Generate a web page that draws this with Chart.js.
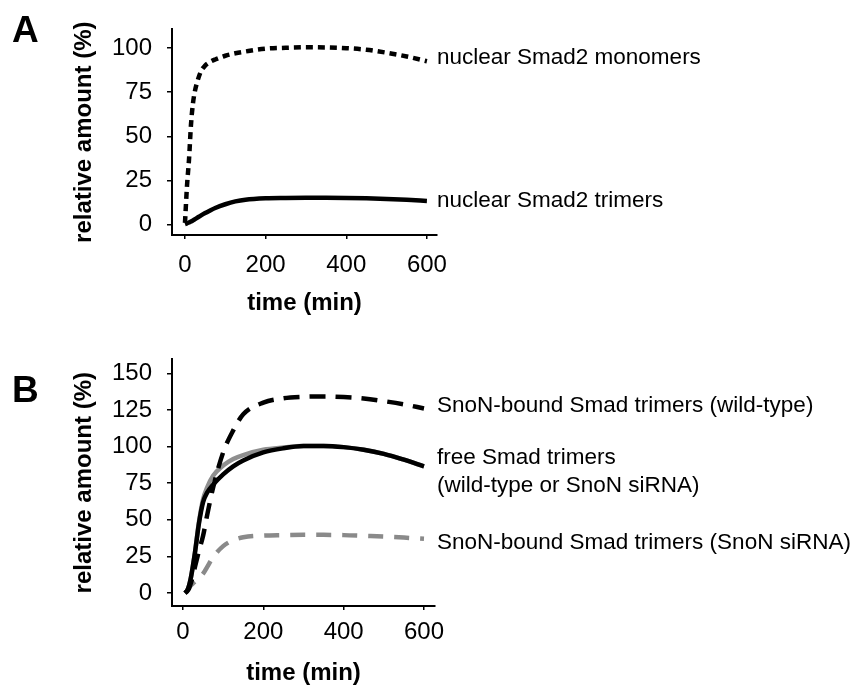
<!DOCTYPE html>
<html>
<head>
<meta charset="utf-8">
<script src="https://cdn.jsdelivr.net/npm/chart.js@4.4.1/dist/chart.umd.min.js"></script>
<style>
  html, body { margin: 0; padding: 0; background: #fff; }
  #wrap { position: relative; width: 859px; height: 688px; overflow: hidden; }
  canvas { position: absolute; left: 0; }
  #chartA { top: 0; }
  #chartB { top: 330px; }
</style>
</head>
<body>
<div id="wrap">
  <canvas id="chartA" width="859" height="330"></canvas>
  <canvas id="chartB" width="859" height="358"></canvas>
</div>
<script>
// Panel A data (time in min, relative amount in %)
const timeA = [0, 5, 10, 15, 20, 25, 30, 40, 50, 60, 75, 100, 125, 150, 200, 250, 300, 350, 400, 450, 500, 550, 600];
const monomersA = [1, 22, 37, 57, 69, 76, 80.5, 87, 90, 91.8, 93.5, 95.6, 97, 98, 99.6, 100.1, 100.4, 100.3, 99.9, 99, 97.3, 95.2, 92.5];
const trimersA = [0.4, 0.8, 1.3, 1.8, 2.5, 3.2, 3.9, 5.3, 6.6, 7.8, 9.5, 11.6, 13.2, 14.2, 15.0, 15.2, 15.3, 15.3, 15.2, 15.0, 14.6, 14.1, 13.5];
const yTicksA = [0, 25, 50, 75, 100];

// Panel B data
const timeB = [5, 10, 15, 20, 25, 30, 40, 50, 60, 75, 100, 125, 150, 200, 250, 300, 350, 400, 450, 500, 550, 600];
const freeWT = [0, 1.5, 5, 11, 19, 28, 48, 62, 68.5, 74, 81, 86.5, 90.5, 96, 98.8, 100.3, 100.4, 99.6, 97.8, 95, 91, 86.5];
const freeSi = [0, 1.5, 5, 11, 19, 28, 49, 64, 72, 80, 87, 91.5, 94.2, 97.8, 99.3, 100.3, 100.4, 99.6, 97.8, 95, 91, 86.5];
const boundWT = [0, 1, 3, 7, 12, 18, 29, 39, 53, 72, 96, 111, 122, 130, 133, 134, 134.2, 133.8, 132.8, 131, 128.8, 126];
const boundSi = [0, 1.5, 3.5, 5.3, 6.6, 7.8, 10.3, 13.2, 17.7, 24.5, 32, 36, 38, 39.2, 39.5, 39.7, 39.7, 39.5, 39, 38.5, 37.8, 37];
const yTicksB = [0, 25, 50, 75, 100, 125, 150];

const xTicks = [0, 200, 400, 600];

const FONT = '"Liberation Sans", Arial, sans-serif';
Chart.defaults.font.family = FONT;
Chart.defaults.color = "#000";

function pts(time, vals) {
  return time.map((t, i) => ({ x: t, y: vals[i] }));
}

// draws the panel letter and the text beside each curve end
const sideLabels = {
  id: "sideLabels",
  afterDraw(chart, args, opts) {
    const ctx = chart.ctx;
    ctx.save();
    ctx.fillStyle = "#000";
    ctx.font = "bold 37px " + FONT;
    ctx.textBaseline = "alphabetic";
    ctx.textAlign = "left";
    ctx.fillText(opts.letter, 12, opts.letterY);

    ctx.font = "22.5px " + FONT;
    ctx.textBaseline = "middle";
    opts.items.forEach(item => {
      const data = chart.data.datasets[item.ds].data;
      const last = data[data.length - 1];
      const y0 = chart.scales.y.getPixelForValue(last.y) + item.dy;
      item.lines.forEach((line, i) => {
        ctx.fillText(line, opts.x, y0 + i * 28);
      });
    });
    ctx.restore();
  }
};

function makeChart(id, cfg) {
  return new Chart(document.getElementById(id), {
    type: "line",
    data: { datasets: cfg.datasets },
    options: {
      responsive: false,
      animation: false,
      events: [],
      layout: { padding: cfg.padding },
      elements: { point: { radius: 0 }, line: { cubicInterpolationMode: "monotone" } },
      plugins: {
        legend: { display: false },
        tooltip: { enabled: false },
        sideLabels: cfg.labels
      },
      scales: {
        x: {
          type: "linear",
          min: cfg.xMin,
          max: cfg.xMax,
          afterFit: s => { s.height = cfg.xHeight; },
          afterBuildTicks: s => { s.ticks = xTicks.map(v => ({ value: v })); },
          ticks: { font: { size: 24 }, padding: cfg.xTickPad, maxRotation: 0, color: "#000" },
          grid: { drawOnChartArea: false, drawTicks: true, tickLength: 4, color: "#000", lineWidth: 1.5 },
          border: { color: "#000", width: 2 },
          title: { display: true, text: "time (min)", font: { size: 24, weight: "bold" }, padding: { top: 0, bottom: cfg.xTitlePad }, color: "#000" }
        },
        y: {
          min: cfg.yMin,
          max: cfg.yMax,
          afterFit: s => { s.width = 102; },
          afterBuildTicks: s => { s.ticks = cfg.yTicks.map(v => ({ value: v })); },
          ticks: { font: { size: 24 }, padding: 15, color: "#000" },
          grid: { drawOnChartArea: false, drawTicks: true, tickLength: 5, color: "#000", lineWidth: 1.5 },
          border: { color: "#000", width: 2 },
          title: { display: true, text: "relative amount (%)", font: { size: 24, weight: "bold" }, padding: 0, color: "#000" }
        }
      }
    },
    plugins: [sideLabels]
  });
}

makeChart("chartA", {
  padding: { left: 70, top: 13, right: 422, bottom: 0 },
  xMin: -32.2, xMax: 625, yMin: -5.8, yMax: 110.5,
  xHeight: 95, xTickPad: 12, xTitlePad: 12,
  yTicks: yTicksA,
  datasets: [
    { label: "nuclear Smad2 monomers", data: pts(timeA, monomersA), borderColor: "#000", borderWidth: 4.5, borderDash: [7, 5] },
    { label: "nuclear Smad2 trimers", data: pts(timeA, trimersA), borderColor: "#000", borderWidth: 4.5 }
  ],
  labels: {
    letter: "A", letterY: 42, x: 437,
    items: [
      { ds: 0, dy: -3, lines: ["nuclear Smad2 monomers"] },
      { ds: 1, dy: 0, lines: ["nuclear Smad2 trimers"] }
    ]
  }
});

makeChart("chartB", {
  padding: { left: 70, top: 29, right: 424, bottom: 0 },
  xMin: -27.4, xMax: 627.4, yMin: -8.9, yMax: 159.5,
  xHeight: 82, xTickPad: 8, xTitlePad: 0,
  yTicks: yTicksB,
  datasets: [
    { label: "free Smad trimers (wild-type)", data: pts(timeB, freeWT), borderColor: "#000", borderWidth: 4.5 },
    { label: "SnoN-bound Smad trimers (wild-type)", data: pts(timeB, boundWT), borderColor: "#000", borderWidth: 4.5, borderDash: [16, 10] },
    { label: "free Smad trimers (SnoN siRNA)", data: pts(timeB, freeSi), borderColor: "#8f8f8f", borderWidth: 4.5 },
    { label: "SnoN-bound Smad trimers (SnoN siRNA)", data: pts(timeB, boundSi), borderColor: "#8a8a8a", borderWidth: 4.5, borderDash: [15, 11] }
  ],
  labels: {
    letter: "B", letterY: 72, x: 437,
    items: [
      { ds: 1, dy: -3, lines: ["SnoN-bound Smad trimers (wild-type)"] },
      { ds: 0, dy: -9, lines: ["free Smad trimers", "(wild-type or SnoN siRNA)"] },
      { ds: 3, dy: 4, lines: ["SnoN-bound Smad trimers (SnoN siRNA)"] }
    ]
  }
});
</script>
</body>
</html>
